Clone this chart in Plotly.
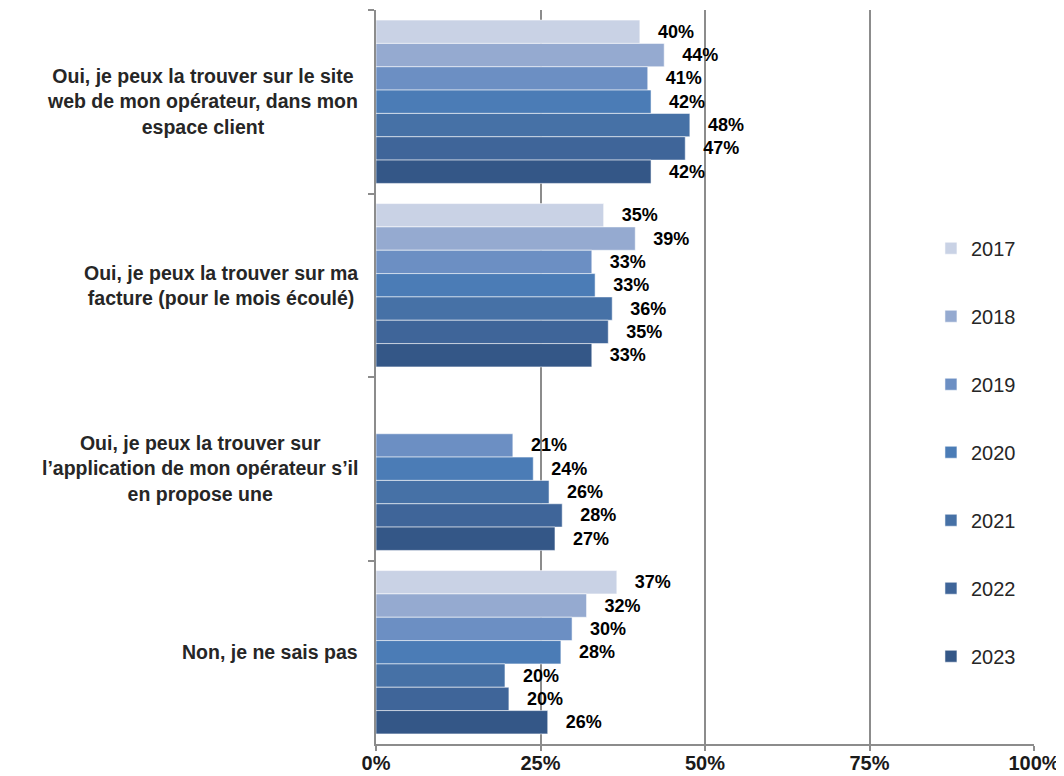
import plotly.graph_objects as go

categories = [
    "Oui, je peux la trouver sur le site<br>web de mon opérateur, dans mon<br>espace client",
    "Oui, je peux la trouver sur ma<br>facture (pour le mois écoulé)",
    "Oui, je peux la trouver sur<br>l’application de mon opérateur s’il<br>en propose une",
    "Non, je ne sais pas",
]
years = ["2017", "2018", "2019", "2020", "2021", "2022", "2023"]
values = {
    "2017": [40.1, 34.6, None, 36.6],
    "2018": [43.8, 39.4, None, 32.0],
    "2019": [41.3, 32.8, 20.8, 29.8],
    "2020": [41.8, 33.3, 23.9, 28.1],
    "2021": [47.7, 35.9, 26.3, 19.6],
    "2022": [47.0, 35.3, 28.3, 20.2],
    "2023": [41.8, 32.8, 27.2, 26.1],
}
colors = ["#C9D2E5", "#95AAD0", "#6C8FC3", "#4B7CB6", "#4671A6", "#3F6599", "#345787"]
x_ticks = [0, 25, 50, 75, 100]

fig = go.Figure()
pad = "\u00a0\u00a0\u00a0"
for i, yr in enumerate(years):
    vals = values[yr]
    fig.add_trace(go.Bar(
        y=categories, x=vals, orientation="h", name=yr,
        legendgroup=yr,
        marker=dict(color=colors[i], line=dict(color="rgba(255,255,255,0.55)", width=1)),
        text=[(pad + f"<b>{round(v)}%</b>") if v is not None else "" for v in vals],
        textposition="outside",
        textfont=dict(family="Liberation Sans, Arial, sans-serif", size=18, color="#000000"),
        constraintext="none",
        cliponaxis=False,
        hoverinfo="skip",
    ))

for c in categories:
    fig.add_annotation(
        x=0, y=c, xref="x", yref="y", text="<b>" + c + "</b>",
        xanchor="right", yanchor="middle", xshift=-16, align="center",
        showarrow=False,
        font=dict(family="Liberation Sans, Arial, sans-serif", size=19.5, color="#262626"),
    )

fig.update_layout(
    width=1056, height=768,
    margin=dict(l=368, r=30, t=2, b=32, autoexpand=False),
    paper_bgcolor="white", plot_bgcolor="white",
    barmode="group", bargap=0.11, bargroupgap=0,
    showlegend=True,
    legend=dict(
        x=0.8434, y=0.702, xanchor="left", yanchor="top",
        traceorder="grouped", tracegroupgap=39,
        font=dict(family="Liberation Sans, Arial, sans-serif", size=20, color="#262626"),
        bgcolor="rgba(0,0,0,0)",
    ),
    font=dict(family="Liberation Sans, Arial, sans-serif"),
)
fig.update_xaxes(
    range=[0, 100], tickvals=x_ticks, ticktext=[f"<b>{t}%</b>" for t in x_ticks],
    showgrid=True, gridcolor="#8C8C8C", gridwidth=1.5,
    showline=True, linecolor="#8C8C8C", linewidth=1.5,
    ticks="outside", ticklen=5, tickcolor="#8C8C8C", tickwidth=1.5,
    ticklabelstandoff=-5,
    tickfont=dict(family="Liberation Sans, Arial, sans-serif", size=20, color="#1A1A1A"),
    zeroline=False, automargin=False,
)
fig.update_yaxes(
    type="category", autorange="reversed",
    showticklabels=False, tickson="boundaries",
    ticks="outside", ticklen=6, tickcolor="#8C8C8C", tickwidth=1.5,
    showline=True, linecolor="#8C8C8C", linewidth=1.5,
    showgrid=False, automargin=False,
)

fig.write_html("out.html")
